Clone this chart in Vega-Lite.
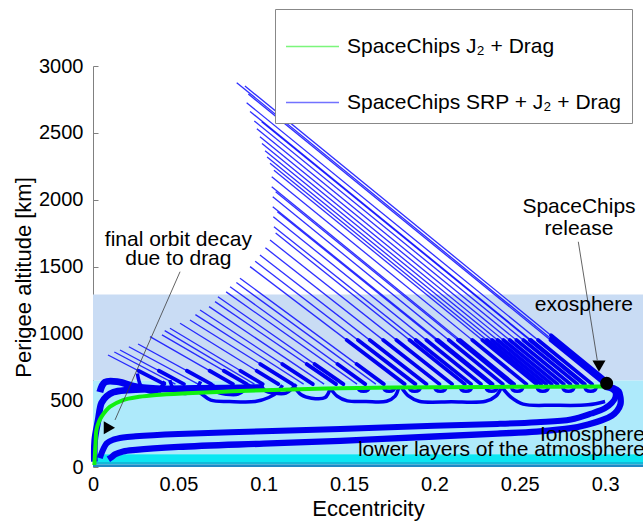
{
 "$schema": "https://vega.github.io/schema/vega-lite/v6.json",
 "autosize": {"type": "none"},
 "padding": {"left": 93, "top": 66, "right": 0, "bottom": 56},
 "width": 550,
 "height": 401,
 "background": "white",
 "config": {"font": "Liberation Sans", "view": {"stroke": null}},
 "datasets": {
  "bands": [
   {"z": "exo", "e": 0, "e2": 0.3222, "a": 648, "a2": 1290},
   {"z": "iono", "e": 0, "e2": 0.3222, "a": 95, "a2": 648},
   {"z": "low1", "e": 0, "e2": 0.3222, "a": 37, "a2": 95},
   {"z": "low2", "e": 0, "e2": 0.3222, "a": 19, "a2": 37},
   {"z": "low3", "e": 0, "e2": 0.3222, "a": 0, "a2": 19}
  ],
  "fan": [
   {"id":1,"o":0,"e":0.0088,"a":838},{"id":1,"o":1,"e":0.0418,"a":620},
   {"id":2,"o":0,"e":0.0158,"a":875},{"id":2,"o":1,"e":0.0533,"a":620},
   {"id":3,"o":0,"e":0.0264,"a":920},{"id":3,"o":1,"e":0.0693,"a":620},
   {"id":4,"o":0,"e":0.0334,"a":975},{"id":4,"o":1,"e":0.082,"a":620},
   {"id":5,"o":0,"e":0.0404,"a":988},{"id":5,"o":1,"e":0.0901,"a":620},
   {"id":6,"o":0,"e":0.0451,"a":1038},{"id":6,"o":1,"e":0.0994,"a":620},
   {"id":7,"o":0,"e":0.051,"a":1075},{"id":7,"o":1,"e":0.1086,"a":620},
   {"id":8,"o":0,"e":0.0568,"a":1100},{"id":8,"o":1,"e":0.1168,"a":620},
   {"id":9,"o":0,"e":0.0627,"a":1175},{"id":9,"o":1,"e":0.1288,"a":620},
   {"id":10,"o":0,"e":0.0715,"a":1237},{"id":10,"o":1,"e":0.1424,"a":620},
   {"id":11,"o":0,"e":0.0732,"a":1274},{"id":11,"o":1,"e":0.1467,"a":620},
   {"id":12,"o":0,"e":0.0803,"a":1349},{"id":12,"o":1,"e":0.1595,"a":620},
   {"id":13,"o":0,"e":0.0861,"a":1412},{"id":13,"o":1,"e":0.1704,"a":620},
   {"id":14,"o":0,"e":0.092,"a":1499},{"id":14,"o":1,"e":0.1826,"a":620},
   {"id":15,"o":0,"e":0.0978,"a":1586},{"id":15,"o":1,"e":0.1954,"a":620},
   {"id":16,"o":0,"e":0.1037,"a":1698},{"id":16,"o":1,"e":0.2104,"a":620},
   {"id":17,"o":0,"e":0.106,"a":1798},{"id":17,"o":1,"e":0.2215,"a":620},
   {"id":18,"o":0,"e":0.1056,"a":1873},{"id":18,"o":1,"e":0.2273,"a":620},
   {"id":19,"o":0,"e":0.1053,"a":1947},{"id":19,"o":1,"e":0.2341,"a":620},
   {"id":20,"o":0,"e":0.1053,"a":2022},{"id":20,"o":1,"e":0.2401,"a":620},
   {"id":21,"o":0,"e":0.1047,"a":2097},{"id":21,"o":1,"e":0.2467,"a":620},
   {"id":22,"o":0,"e":0.1047,"a":2172},{"id":22,"o":1,"e":0.2539,"a":620},
   {"id":23,"o":0,"e":0.1037,"a":2272},{"id":23,"o":1,"e":0.2625,"a":620},
   {"id":24,"o":0,"e":0.1008,"a":2366},{"id":24,"o":1,"e":0.2687,"a":620},
   {"id":25,"o":0,"e":0.0978,"a":2471},{"id":25,"o":1,"e":0.2758,"a":620},
   {"id":26,"o":0,"e":0.0988,"a":2583},{"id":26,"o":1,"e":0.2876,"a":620},
   {"id":27,"o":0,"e":0.0945,"a":2589},{"id":27,"o":1,"e":0.2838,"a":620},
   {"id":28,"o":0,"e":0.09,"a":2725},{"id":28,"o":1,"e":0.2924,"a":620},
   {"id":29,"o":0,"e":0.089,"a":2850},{"id":29,"o":1,"e":0.3,"a":655},
   {"id":30,"o":0,"e":0.0842,"a":2875},{"id":30,"o":1,"e":0.3,"a":630},
   {"id":31,"o":0,"e":0.0125,"a":860},{"id":31,"o":1,"e":0.0483,"a":620},
   {"id":32,"o":0,"e":0.021,"a":900},{"id":32,"o":1,"e":0.0616,"a":620},
   {"id":33,"o":0,"e":0.042,"a":1020},{"id":33,"o":1,"e":0.0946,"a":620},
   {"id":34,"o":0,"e":0.06,"a":1140},{"id":34,"o":1,"e":0.1234,"a":620},
   {"id":35,"o":0,"e":0.068,"a":1200},{"id":35,"o":1,"e":0.1354,"a":620},
   {"id":36,"o":0,"e":0.078,"a":1310},{"id":36,"o":1,"e":0.1547,"a":620},
   {"id":37,"o":0,"e":0.084,"a":1380},{"id":37,"o":1,"e":0.1657,"a":620},
   {"id":38,"o":0,"e":0.095,"a":1540},{"id":38,"o":1,"e":0.1889,"a":620},
   {"id":39,"o":0,"e":0.101,"a":1640},{"id":39,"o":1,"e":0.203,"a":620},
   {"id":40,"o":0,"e":0.107,"a":1750},{"id":40,"o":1,"e":0.2178,"a":620},
   {"id":41,"o":0,"e":0.108,"a":1910},{"id":41,"o":1,"e":0.2332,"a":620},
   {"id":42,"o":0,"e":0.107,"a":2060},{"id":42,"o":1,"e":0.2455,"a":620},
   {"id":43,"o":0,"e":0.106,"a":2220},{"id":43,"o":1,"e":0.2598,"a":620},
   {"id":44,"o":0,"e":0.102,"a":2320},{"id":44,"o":1,"e":0.2655,"a":620},
   {"id":45,"o":0,"e":0.099,"a":2420},{"id":45,"o":1,"e":0.2721,"a":620},
   {"id":46,"o":0,"e":0.096,"a":2530},{"id":46,"o":1,"e":0.2797,"a":620},
   {"id":47,"o":0,"e":0.092,"a":2660},{"id":47,"o":1,"e":0.2882,"a":620},
   {"id":48,"o":0,"e":0.091,"a":2790},{"id":48,"o":1,"e":0.2997,"a":620}
  ],
  "thick": [
   {"id":1,"o":0,"e":0.0266,"a":720},{"id":1,"o":1,"e":0.0418,"a":620},
   {"id":2,"o":0,"e":0.0386,"a":720},{"id":2,"o":1,"e":0.0533,"a":620},
   {"id":3,"o":0,"e":0.055,"a":720},{"id":3,"o":1,"e":0.0693,"a":620},
   {"id":4,"o":0,"e":0.0683,"a":720},{"id":4,"o":1,"e":0.082,"a":620},
   {"id":5,"o":0,"e":0.0766,"a":720},{"id":5,"o":1,"e":0.0901,"a":620},
   {"id":6,"o":0,"e":0.0864,"a":720},{"id":6,"o":1,"e":0.0994,"a":620},
   {"id":7,"o":0,"e":0.0959,"a":720},{"id":7,"o":1,"e":0.1086,"a":620},
   {"id":8,"o":0,"e":0.098,"a":770},{"id":8,"o":1,"e":0.1168,"a":620},
   {"id":9,"o":0,"e":0.1109,"a":770},{"id":9,"o":1,"e":0.1288,"a":620},
   {"id":10,"o":0,"e":0.1252,"a":770},{"id":10,"o":1,"e":0.1424,"a":620},
   {"id":11,"o":0,"e":0.1298,"a":770},{"id":11,"o":1,"e":0.1467,"a":620},
   {"id":12,"o":0,"e":0.1432,"a":770},{"id":12,"o":1,"e":0.1595,"a":620},
   {"id":13,"o":0,"e":0.1544,"a":770},{"id":13,"o":1,"e":0.1704,"a":620},
   {"id":14,"o":0,"e":0.1486,"a":950},{"id":14,"o":1,"e":0.1826,"a":620},
   {"id":15,"o":0,"e":0.1621,"a":950},{"id":15,"o":1,"e":0.1954,"a":620},
   {"id":16,"o":0,"e":0.1777,"a":950},{"id":16,"o":1,"e":0.2104,"a":620},
   {"id":17,"o":0,"e":0.1891,"a":950},{"id":17,"o":1,"e":0.2215,"a":620},
   {"id":18,"o":0,"e":0.1953,"a":950},{"id":18,"o":1,"e":0.2273,"a":620},
   {"id":19,"o":0,"e":0.2021,"a":950},{"id":19,"o":1,"e":0.2341,"a":620},
   {"id":20,"o":0,"e":0.2084,"a":950},{"id":20,"o":1,"e":0.2401,"a":620},
   {"id":21,"o":0,"e":0.215,"a":950},{"id":21,"o":1,"e":0.2467,"a":620},
   {"id":22,"o":0,"e":0.2222,"a":950},{"id":22,"o":1,"e":0.2539,"a":620},
   {"id":23,"o":0,"e":0.2308,"a":950},{"id":23,"o":1,"e":0.2625,"a":620},
   {"id":24,"o":0,"e":0.237,"a":950},{"id":24,"o":1,"e":0.2687,"a":620},
   {"id":25,"o":0,"e":0.2441,"a":950},{"id":25,"o":1,"e":0.2758,"a":620},
   {"id":26,"o":0,"e":0.2559,"a":950},{"id":26,"o":1,"e":0.2876,"a":620},
   {"id":27,"o":0,"e":0.2521,"a":950},{"id":27,"o":1,"e":0.2838,"a":620},
   {"id":28,"o":0,"e":0.2607,"a":950},{"id":28,"o":1,"e":0.2924,"a":620},
   {"id":29,"o":0,"e":0.2683,"a":985},{"id":29,"o":1,"e":0.3,"a":655},
   {"id":30,"o":0,"e":0.2683,"a":960},{"id":30,"o":1,"e":0.3,"a":630},
   {"id":38,"o":0,"e":0.1552,"a":950},{"id":38,"o":1,"e":0.1889,"a":620},
   {"id":39,"o":0,"e":0.17,"a":950},{"id":39,"o":1,"e":0.203,"a":620},
   {"id":40,"o":0,"e":0.1854,"a":950},{"id":40,"o":1,"e":0.2178,"a":620},
   {"id":41,"o":0,"e":0.2012,"a":950},{"id":41,"o":1,"e":0.2332,"a":620},
   {"id":42,"o":0,"e":0.2138,"a":950},{"id":42,"o":1,"e":0.2455,"a":620},
   {"id":43,"o":0,"e":0.2281,"a":950},{"id":43,"o":1,"e":0.2598,"a":620},
   {"id":44,"o":0,"e":0.2338,"a":950},{"id":44,"o":1,"e":0.2655,"a":620},
   {"id":45,"o":0,"e":0.2404,"a":950},{"id":45,"o":1,"e":0.2721,"a":620},
   {"id":46,"o":0,"e":0.248,"a":950},{"id":46,"o":1,"e":0.2797,"a":620},
   {"id":47,"o":0,"e":0.2565,"a":950},{"id":47,"o":1,"e":0.2882,"a":620},
   {"id":48,"o":0,"e":0.268,"a":950},{"id":48,"o":1,"e":0.2997,"a":620}
  ],
  "loops": [
   {"id":"L1","o":0,"e":0.026,"a":700},{"id":"L1","o":1,"e":0.028,"a":610},{"id":"L1","o":2,"e":0.032,"a":565},{"id":"L1","o":3,"e":0.037,"a":563},{"id":"L1","o":4,"e":0.04,"a":600},{"id":"L1","o":5,"e":0.042,"a":640},
   {"id":"L2","o":0,"e":0.045,"a":650},{"id":"L2","o":1,"e":0.047,"a":590},{"id":"L2","o":2,"e":0.051,"a":556},{"id":"L2","o":3,"e":0.057,"a":556},{"id":"L2","o":4,"e":0.061,"a":590},{"id":"L2","o":5,"e":0.063,"a":640},
   {"id":"L3","o":0,"e":0.058,"a":600},{"id":"L3","o":1,"e":0.063,"a":553},{"id":"L3","o":2,"e":0.069,"a":500},{"id":"L3","o":3,"e":0.08,"a":490},{"id":"L3","o":4,"e":0.095,"a":490},{"id":"L3","o":5,"e":0.103,"a":520},{"id":"L3","o":6,"e":0.108,"a":560},{"id":"L3","o":7,"e":0.111,"a":613},
   {"id":"L4","o":0,"e":0.07,"a":620},{"id":"L4","o":1,"e":0.073,"a":560},{"id":"L4","o":2,"e":0.078,"a":545},{"id":"L4","o":3,"e":0.085,"a":545},{"id":"L4","o":4,"e":0.089,"a":580},{"id":"L4","o":5,"e":0.092,"a":620},
   {"id":"L5","o":0,"e":0.098,"a":620},{"id":"L5","o":1,"e":0.101,"a":570},{"id":"L5","o":2,"e":0.106,"a":553},{"id":"L5","o":3,"e":0.113,"a":553},{"id":"L5","o":4,"e":0.117,"a":590},{"id":"L5","o":5,"e":0.119,"a":620},
   {"id":"L9","o":0,"e":0.118,"a":600},{"id":"L9","o":1,"e":0.122,"a":540},{"id":"L9","o":2,"e":0.128,"a":515},{"id":"L9","o":3,"e":0.136,"a":520},{"id":"L9","o":4,"e":0.139,"a":590},
   {"id":"L6","o":0,"e":0.139,"a":590},{"id":"L6","o":1,"e":0.143,"a":530},{"id":"L6","o":2,"e":0.149,"a":495},{"id":"L6","o":3,"e":0.16,"a":490},{"id":"L6","o":4,"e":0.172,"a":492},{"id":"L6","o":5,"e":0.177,"a":530},{"id":"L6","o":6,"e":0.179,"a":590},
   {"id":"L7","o":0,"e":0.181,"a":590},{"id":"L7","o":1,"e":0.185,"a":530},{"id":"L7","o":2,"e":0.191,"a":492},{"id":"L7","o":3,"e":0.21,"a":488},{"id":"L7","o":4,"e":0.23,"a":492},{"id":"L7","o":5,"e":0.236,"a":530},{"id":"L7","o":6,"e":0.239,"a":590},
   {"id":"L8","o":0,"e":0.24,"a":590},{"id":"L8","o":1,"e":0.245,"a":520},{"id":"L8","o":2,"e":0.252,"a":470},{"id":"L8","o":3,"e":0.27,"a":462},{"id":"L8","o":4,"e":0.29,"a":465},{"id":"L8","o":5,"e":0.3,"a":490},
   {"id":"s1","o":0,"e":0.155,"a":600},{"id":"s1","o":1,"e":0.156,"a":575},{"id":"s1","o":2,"e":0.1585,"a":566},{"id":"s1","o":3,"e":0.161,"a":575},{"id":"s1","o":4,"e":0.162,"a":600},
   {"id":"s2","o":0,"e":0.17,"a":600},{"id":"s2","o":1,"e":0.171,"a":575},{"id":"s2","o":2,"e":0.1735,"a":566},{"id":"s2","o":3,"e":0.176,"a":575},{"id":"s2","o":4,"e":0.177,"a":600},
   {"id":"s3","o":0,"e":0.185,"a":600},{"id":"s3","o":1,"e":0.186,"a":575},{"id":"s3","o":2,"e":0.1885,"a":566},{"id":"s3","o":3,"e":0.191,"a":575},{"id":"s3","o":4,"e":0.192,"a":600},
   {"id":"s4","o":0,"e":0.2,"a":600},{"id":"s4","o":1,"e":0.201,"a":575},{"id":"s4","o":2,"e":0.2035,"a":566},{"id":"s4","o":3,"e":0.206,"a":575},{"id":"s4","o":4,"e":0.207,"a":600},
   {"id":"s5","o":0,"e":0.215,"a":600},{"id":"s5","o":1,"e":0.216,"a":575},{"id":"s5","o":2,"e":0.2185,"a":566},{"id":"s5","o":3,"e":0.221,"a":575},{"id":"s5","o":4,"e":0.222,"a":600},
   {"id":"s6","o":0,"e":0.23,"a":600},{"id":"s6","o":1,"e":0.231,"a":575},{"id":"s6","o":2,"e":0.2335,"a":566},{"id":"s6","o":3,"e":0.236,"a":575},{"id":"s6","o":4,"e":0.237,"a":600},
   {"id":"s7","o":0,"e":0.245,"a":600},{"id":"s7","o":1,"e":0.246,"a":575},{"id":"s7","o":2,"e":0.2485,"a":566},{"id":"s7","o":3,"e":0.251,"a":575},{"id":"s7","o":4,"e":0.252,"a":600},
   {"id":"s8","o":0,"e":0.26,"a":600},{"id":"s8","o":1,"e":0.261,"a":575},{"id":"s8","o":2,"e":0.2635,"a":566},{"id":"s8","o":3,"e":0.266,"a":575},{"id":"s8","o":4,"e":0.267,"a":600},
   {"id":"s9","o":0,"e":0.275,"a":600},{"id":"s9","o":1,"e":0.276,"a":575},{"id":"s9","o":2,"e":0.2785,"a":566},{"id":"s9","o":3,"e":0.281,"a":575},{"id":"s9","o":4,"e":0.282,"a":600},
   {"id":"s10","o":0,"e":0.288,"a":600},{"id":"s10","o":1,"e":0.289,"a":575},{"id":"s10","o":2,"e":0.2915,"a":566},{"id":"s10","o":3,"e":0.294,"a":575},{"id":"s10","o":4,"e":0.295,"a":600}
  ],
  "curves": [
   {"id":"B1","o":0,"e":0.3,"a":600},{"id":"B1","o":1,"e":0.304,"a":585},{"id":"B1","o":2,"e":0.306,"a":560},{"id":"B1","o":3,"e":0.306,"a":520},{"id":"B1","o":4,"e":0.304,"a":480},{"id":"B1","o":5,"e":0.3,"a":440},{"id":"B1","o":6,"e":0.292,"a":400},{"id":"B1","o":7,"e":0.28,"a":355},{"id":"B1","o":8,"e":0.26,"a":335},{"id":"B1","o":9,"e":0.237,"a":322},{"id":"B1","o":10,"e":0.2,"a":308},{"id":"B1","o":11,"e":0.145,"a":285},{"id":"B1","o":12,"e":0.1,"a":268},{"id":"B1","o":13,"e":0.05,"a":247},{"id":"B1","o":14,"e":0.025,"a":230},{"id":"B1","o":15,"e":0.0176,"a":221},{"id":"B1","o":16,"e":0.012,"a":205},{"id":"B1","o":17,"e":0.008,"a":177},{"id":"B1","o":18,"e":0.005,"a":102},{"id":"B1","o":19,"e":0.004,"a":67},
   {"id":"B2","o":0,"e":0.3,"a":600},{"id":"B2","o":1,"e":0.305,"a":590},{"id":"B2","o":2,"e":0.308,"a":565},{"id":"B2","o":3,"e":0.309,"a":520},{"id":"B2","o":4,"e":0.309,"a":470},{"id":"B2","o":5,"e":0.307,"a":420},{"id":"B2","o":6,"e":0.304,"a":385},{"id":"B2","o":7,"e":0.298,"a":350},{"id":"B2","o":8,"e":0.29,"a":318},{"id":"B2","o":9,"e":0.28,"a":290},{"id":"B2","o":10,"e":0.26,"a":265},{"id":"B2","o":11,"e":0.237,"a":250},{"id":"B2","o":12,"e":0.2,"a":228},{"id":"B2","o":13,"e":0.145,"a":196},{"id":"B2","o":14,"e":0.1,"a":175},{"id":"B2","o":15,"e":0.05,"a":150},{"id":"B2","o":16,"e":0.025,"a":128},{"id":"B2","o":17,"e":0.0176,"a":116},{"id":"B2","o":18,"e":0.013,"a":95},{"id":"B2","o":19,"e":0.011,"a":75},{"id":"B2","o":20,"e":0.009,"a":58},
   {"id":"C1","o":0,"e":0.0008,"a":40},{"id":"C1","o":1,"e":0.001,"a":200},{"id":"C1","o":2,"e":0.003,"a":350},{"id":"C1","o":3,"e":0.005,"a":480},{"id":"C1","o":4,"e":0.008,"a":530},{"id":"C1","o":5,"e":0.012,"a":560},{"id":"C1","o":6,"e":0.02,"a":575},{"id":"C1","o":7,"e":0.037,"a":583},{"id":"C1","o":8,"e":0.06,"a":588},{"id":"C1","o":9,"e":0.1,"a":595},
   {"id":"T1","o":0,"e":0.004,"a":560},{"id":"T1","o":1,"e":0.007,"a":635},{"id":"T1","o":2,"e":0.015,"a":637},{"id":"T1","o":3,"e":0.025,"a":600},{"id":"T1","o":4,"e":0.04,"a":582}
  ],
  "green": [
   {"series":"SpaceChips J₂ + Drag","o":0,"e":0.0008,"a":15},
   {"series":"SpaceChips J₂ + Drag","o":1,"e":0.001,"a":65},
   {"series":"SpaceChips J₂ + Drag","o":2,"e":0.0015,"a":180},
   {"series":"SpaceChips J₂ + Drag","o":3,"e":0.002,"a":277},
   {"series":"SpaceChips J₂ + Drag","o":4,"e":0.0035,"a":340},
   {"series":"SpaceChips J₂ + Drag","o":5,"e":0.005,"a":377},
   {"series":"SpaceChips J₂ + Drag","o":6,"e":0.0075,"a":420},
   {"series":"SpaceChips J₂ + Drag","o":7,"e":0.01,"a":451},
   {"series":"SpaceChips J₂ + Drag","o":8,"e":0.0176,"a":501},
   {"series":"SpaceChips J₂ + Drag","o":9,"e":0.027,"a":525},
   {"series":"SpaceChips J₂ + Drag","o":10,"e":0.037,"a":539},
   {"series":"SpaceChips J₂ + Drag","o":11,"e":0.055,"a":552},
   {"series":"SpaceChips J₂ + Drag","o":12,"e":0.076,"a":563},
   {"series":"SpaceChips J₂ + Drag","o":13,"e":0.1,"a":575},
   {"series":"SpaceChips J₂ + Drag","o":14,"e":0.145,"a":590},
   {"series":"SpaceChips J₂ + Drag","o":15,"e":0.2,"a":597},
   {"series":"SpaceChips J₂ + Drag","o":16,"e":0.25,"a":600},
   {"series":"SpaceChips J₂ + Drag","o":17,"e":0.3,"a":603}
  ],
  "pointers": [
   {"id":"p1","o":0,"e":0.051,"a":1461},{"id":"p1","o":1,"e":0.0129,"a":352},
   {"id":"p2","o":0,"e":0.2843,"a":1685},{"id":"p2","o":1,"e":0.2954,"a":800}
  ],
  "markers": [
   {"k":"arrowR","e":0.0096,"a":294},
   {"k":"arrowD","e":0.2964,"a":755},
   {"k":"dot","e":0.3009,"a":626}
  ],
  "ctext": [
   {"t":"final orbit decay","e":0.05,"a":1650},
   {"t":"due to drag","e":0.05,"a":1511},
   {"t":"SpaceChips","e":0.2847,"a":1898},
   {"t":"release","e":0.2847,"a":1736}
  ],
  "rtext": [
   {"t":"exosphere","e":0.3163,"a":1168},
   {"t":"Ionosphere","e":0.3234,"a":197},
   {"t":"lower layers of the atmosphere","e":0.3234,"a":82}
  ]
 },
 "encoding": {
  "x": {"field":"e","type":"quantitative","scale":{"domain":[0,0.3222],"nice":false,"zero":false},
   "axis":{"title":"Eccentricity","values":[0,0.05,0.1,0.15,0.2,0.25,0.3],"labelExpr":"datum.value + ''","ticks":false,"domain":false,"grid":false,"labelFlush":false,"labelOverlap":false,"labelFontSize":20,"labelColor":"black","labelPadding":7,"titleFontSize":22,"titleFontWeight":"normal","titleColor":"black","titlePadding":4}},
  "y": {"field":"a","type":"quantitative","scale":{"domain":[0,3000],"nice":false},
   "axis":{"title":"Perigee altitude [km]","values":[0,500,1000,1500,2000,2500,3000],"format":"d","grid":false,"labelFlush":false,"labelOverlap":false,"domainColor":"#808080","tickColor":"#808080","tickSize":-5,"labelPadding":15,"labelFontSize":20,"labelColor":"black","titleFontSize":22,"titleFontWeight":"normal","titleColor":"black","titleX":-70,"titleY":211,"titleAngle":-90,"titleBaseline":"middle","titleAlign":"center"}}
 },
 "layer": [
  {"data":{"name":"bands"},"mark":{"type":"rect"},
   "encoding":{"x2":{"field":"e2"},"y2":{"field":"a2"},
    "fill":{"field":"z","type":"nominal","scale":{"domain":["exo","iono","low1","low2","low3"],"range":["#c9dcf4","#aeeafb","#0ce6f2","#12b9d9","#1f8ac6"]},"legend":null}}},
  {"data":{"name":"fan"},"mark":{"type":"line","color":"#0a0aff","strokeWidth":1.3,"opacity":0.85},
   "encoding":{"detail":{"field":"id","type":"nominal"},"order":{"field":"o","type":"quantitative"}}},
  {"data":{"name":"thick"},"mark":{"type":"line","color":"#0000f0","strokeWidth":3.8,"strokeCap":"round"},
   "encoding":{"detail":{"field":"id","type":"nominal"},"order":{"field":"o","type":"quantitative"}}},
  {"data":{"name":"loops"},"mark":{"type":"line","color":"#0000f0","strokeWidth":3.5,"interpolate":"catmull-rom"},
   "encoding":{"detail":{"field":"id","type":"nominal"},"order":{"field":"o","type":"quantitative"}}},
  {"data":{"name":"curves"},"mark":{"type":"line","color":"#0000f0","interpolate":"catmull-rom"},
   "encoding":{"detail":{"field":"id","type":"nominal"},"order":{"field":"o","type":"quantitative"},
    "strokeWidth":{"field":"id","type":"nominal","scale":{"domain":["B1","B2","C1","T1"],"range":[6,7,4,1]},"legend":null}}},
  {"data":{"name":"green"},"mark":{"type":"line","strokeWidth":4,"interpolate":"catmull-rom"},
   "encoding":{"order":{"field":"o","type":"quantitative"},
    "color":{"field":"series","type":"nominal","scale":{"domain":["SpaceChips J₂ + Drag","SpaceChips SRP + J₂ + Drag"],"range":["#10f010","#0000ff"]},
     "legend":{"title":null,"orient":"none","legendX":182,"legendY":-57,"strokeColor":"#888888","fillColor":"white","padding":10,"rowPadding":18,"symbolType":"stroke","symbolSize":2809,"symbolStrokeWidth":1.5,"symbolOpacity":0.55,"labelFontSize":21,"labelColor":"black","labelOffset":7,"labelLimit":400}}}},
  {"data":{"name":"pointers"},"mark":{"type":"line","color":"#3c3c3c","strokeWidth":0.8},
   "encoding":{"detail":{"field":"id","type":"nominal"},"order":{"field":"o","type":"quantitative"}}},
  {"data":{"name":"markers"},"mark":{"type":"point","filled":true,"color":"black","opacity":1},
   "encoding":{"shape":{"field":"k","type":"nominal","scale":{"domain":["arrowR","arrowD","dot"],"range":["triangle-right","triangle-down","circle"]},"legend":null},
    "size":{"field":"k","type":"nominal","scale":{"domain":["arrowR","arrowD","dot"],"range":[170,170,140]},"legend":null}}},
  {"data":{"name":"ctext"},"mark":{"type":"text","fontSize":21,"align":"center","baseline":"alphabetic","color":"black"},
   "encoding":{"text":{"field":"t"}}},
  {"data":{"name":"rtext"},"mark":{"type":"text","fontSize":21,"align":"right","baseline":"alphabetic","color":"black"},
   "encoding":{"text":{"field":"t"}}}
 ]
}
